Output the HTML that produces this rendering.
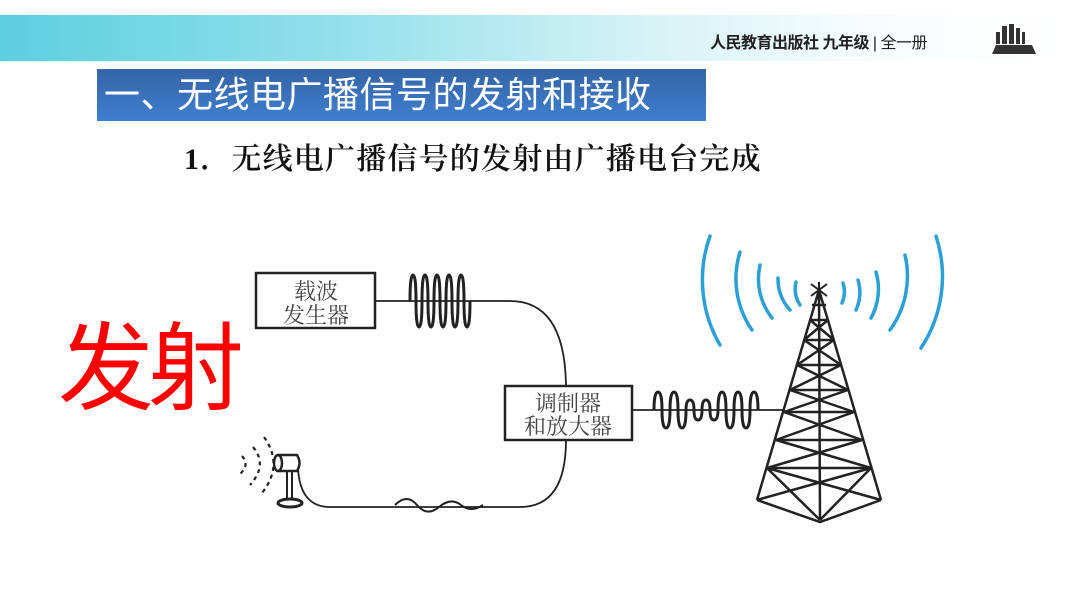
<!DOCTYPE html>
<html><head><meta charset="utf-8"><style>
body{margin:0;width:1066px;height:600px;background:#fff;overflow:hidden;position:relative;font-family:"Liberation Sans","Noto Sans CJK SC",sans-serif}
.band{position:absolute;left:0;top:15px;width:1066px;height:46px;background:linear-gradient(90deg,#5ccfe0 0%,#8fdfea 30%,#d4f2f6 60%,#f6fcfd 80%,#fff 100%)}
.pub{position:absolute;left:710px;top:29px;font-size:16px;font-weight:bold;color:#222;letter-spacing:-0.5px}
.pub span{font-weight:normal}
.title{position:absolute;left:97px;top:69px;width:609px;height:52px;background:linear-gradient(180deg,#3464a6,#3f7fcf);color:#fff;font-size:36px;line-height:52px;padding-left:7px;box-sizing:border-box;letter-spacing:0.5px}
.sub{position:absolute;left:184px;top:134px;font-family:"Liberation Serif","Noto Serif CJK SC",serif;font-size:30px;font-weight:600;color:#111;letter-spacing:1.2px}
.red{position:absolute;left:58px;top:312px;font-size:96px;color:#f00;line-height:116px;letter-spacing:-6px}
</style></head><body>
<div class="band"></div>
<div class="pub">人民教育出版社 九年级 <span>| 全一册</span></div>
<svg style="position:absolute;left:990px;top:22px" width="50" height="34">
<rect x="12" y="4" width="5" height="18" fill="#333"/><rect x="19" y="2" width="5" height="20" fill="#333"/><rect x="26" y="6" width="4" height="16" fill="#333"/><rect x="32" y="10" width="3" height="12" fill="#333"/><rect x="6" y="10" width="4" height="12" fill="#333"/>
<polygon points="6,23 42,23 46,32 2,32" fill="#333"/></svg>
<div class="title">一、无线电广播信号的发射和接收</div>
<div class="sub">1．无线电广播信号的发射由广播电台完成</div>
<div class="red">发射</div>
<svg style="position:absolute;left:0;top:0" width="1066" height="600" fill="none" stroke="#222">
<rect x="256" y="273" width="119" height="55" stroke-width="2.5"/>
<text x="316" y="299" font-size="22" fill="#444" stroke="none" text-anchor="middle" font-family="Noto Serif CJK SC,serif">载波</text>
<text x="316" y="323" font-size="22" fill="#444" stroke="none" text-anchor="middle" font-family="Noto Serif CJK SC,serif">发生器</text>
<rect x="505" y="386" width="127" height="54" stroke-width="2.5"/>
<text x="568" y="411" font-size="22" fill="#444" stroke="none" text-anchor="middle" font-family="Noto Serif CJK SC,serif">调制器</text>
<text x="568" y="434" font-size="22" fill="#444" stroke="none" text-anchor="middle" font-family="Noto Serif CJK SC,serif">和放大器</text>
<path d="M375 301 H510 Q565 301 566 386" stroke-width="1.8"/>
<path d="M410 301 q0 -26 3 -26 q3 0 3 26 q0 26 3 26 q3 0 3 -26 q0 -26 3 -26 q3 0 3 26 q0 26 3 26 q3 0 3 -26 q0 -26 3 -26 q3 0 3 26 q0 26 3 26 q3 0 3 -26 q0 -26 3 -26 q3 0 3 26 q0 26 3 26 q3 0 3 -26 q0 -26 3 -26 q3 0 3 26 q0 26 3 26 q3 0 3 -26" stroke-width="3"/>
<path d="M566 440 Q566 507 520 507 H330 Q300 507 298 468" stroke-width="1.8"/>
<path d="M395 505 q12 -12 22 0 t22 2 t22 -2 t22 0" stroke-width="2"/>
<path d="M632 410 H785" stroke-width="1.8"/>
<path d="M654 410 q0 -18 4 -18 q4 0 4 18 q0 18 4 18 q4 0 4 -18 q0 -18 4 -18 q4 0 4 18 q0 18 4 18 q4 0 4 -18 q0 -10 4 -10 q4 0 4 10 q0 10 4 10 q4 0 4 -10 q0 -10 4 -10 q4 0 4 10 q0 10 4 10 q4 0 4 -10 q0 -18 4 -18 q4 0 4 18 q0 18 4 18 q4 0 4 -18 q0 -18 4 -18 q4 0 4 18 q0 18 4 18 q4 0 4 -18 q0 -18 4 -18 q4 0 4 18" stroke-width="3"/>
<g stroke="#2aa0d6" stroke-width="3.5" stroke-linecap="round">
<path d="M720 345 A130 130 0 0 1 710 236"/>
<path d="M752 330 A90 90 0 0 1 740 252"/>
<path d="M772 318 A63 63 0 0 1 760 265"/>
<path d="M790 310 A45 45 0 0 1 778 278"/>
<path d="M800 305 A30 30 0 0 1 796 282"/>
<path d="M921 348 A130 130 0 0 0 936 236"/>
<path d="M890 330 A92 92 0 0 0 905 255"/>
<path d="M871 318 A60 60 0 0 0 876 272"/>
<path d="M856 310 A43 43 0 0 0 858 280"/>
<path d="M842 303 A28 28 0 0 0 843 283"/>
</g>
<g stroke="#222" stroke-width="2.5">
<path d="M819 290 L757 500 M819 290 L881 500 M819 290 L820 520 M757 500 L820 522 L881 500"/>
<path d="M811 284 L827 296 M827 284 L811 296 M819 282 V298" stroke-width="2"/>
<path d="M804 340 L834 340 M797 365 L841 365 M790 390 L848 390 M784 412 L854 412 M776 440 L862 440 M767 468 L871 468"/>
<path d="M804 340 L841 365 M834 340 L797 365 M797 365 L848 390 M841 365 L790 390 M790 390 L854 412 M848 390 L784 412 M784 412 L862 440 M854 412 L776 440 M776 440 L871 468 M862 440 L767 468 M767 468 L820 520 M871 468 L820 520 M767 468 L881 500 M871 468 L757 500"/>
<path d="M810 320 L828 320 M812 305 L826 305 M810 320 L834 340 M828 320 L804 340"/>
</g>
<g stroke="#222" stroke-width="2.2" stroke-dasharray="4 4">
<path d="M264 437 Q284 465 262 493"/>
<path d="M253 447 Q268 465 250 485"/>
<path d="M242 456 Q250 465 240 474"/>
</g>
<ellipse cx="278" cy="463" rx="4" ry="8" stroke-width="2.5"/>
<path d="M278 455 H297 Q302 463 297 471 H278" stroke-width="2.5"/>
<path d="M287 471 V498 M292 471 V498" stroke-width="2"/>
<ellipse cx="290" cy="503" rx="12" ry="4" stroke-width="3"/>
</svg>
</body></html>
